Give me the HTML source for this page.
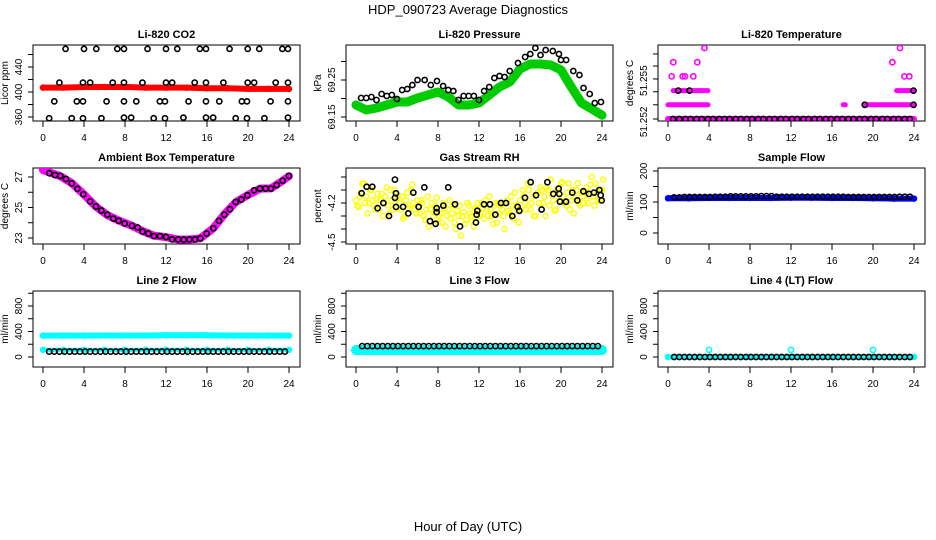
<!DOCTYPE html>
<html><head><meta charset="utf-8"><style>
html,body{margin:0;padding:0;background:#fff;width:936px;height:540px;overflow:hidden}
svg text{font-family:"Liberation Sans",sans-serif}
</style></head><body>
<svg id="c" width="936" height="540" viewBox="0 0 936 540" xmlns="http://www.w3.org/2000/svg">
<text x="468" y="14" text-anchor="middle" font-size="13">HDP_090723  Average Diagnostics</text>
<text x="468" y="531" text-anchor="middle" font-size="13">Hour of Day (UTC)</text>
</svg>
<script>
// ---------- data ----------
const xTicks=[0,4,8,12,16,20,24];
// CO2
const co2RedH=[0,2,4,6,8,10,12,14,16,18,20,22,24];
const co2RedV=[407,407,408,408,408,407,407,407,406,406,405,405,405];
const co2TopH=[2.2,4.0,5.2,7.25,7.9,10.2,12.0,13.1,15.3,15.9,18.2,19.97,21.1,23.35,23.9];
const co2TopV=[469,469,469,469,469,469,469,469,469,469,469,469,469,469,469];
const co2HiH=[1.6,3.9,4.6,6.8,7.9,9.7,12.0,12.6,14.8,15.9,17.6,19.97,20.6,22.7,23.9];
const co2HiV=[415,415,415,415,415,415,415,415,415,415,415,415,415,415,415];
const co2MidH=[1.1,3.3,3.9,6.2,7.9,9.1,11.4,11.9,14.2,15.9,17.2,19.4,19.9,22.2,23.9];
const co2MidV=[385,385,385,385,385,385,385,385,385,385,385,385,385,385,385];
const co2LoH=[0.6,2.8,3.9,5.7,7.9,8.6,10.8,11.9,13.7,15.9,16.6,18.8,19.9,21.6,23.9];
const co2LoV=[358,358,358,358,359,359,358,358,359,359,359,358,358,358,359];
// Pressure
const presGreenH=[0,1,2,3,4,5,6,7,8,9,10,11,12,13,14,15,16,17,18,19,20,21,22,23,24];
const presGreenV=[69.1824,69.1689,69.1743,69.1824,69.1905,69.1905,69.2014,69.2095,69.2176,69.2041,69.1824,69.1824,69.1878,69.2095,69.2311,69.2446,69.2797,69.2932,69.2932,69.2905,69.277,69.2311,69.1878,69.1716,69.155];
const presBlackH=[0.5,1,1.5,2,2.5,3,3.5,4,4.5,5,5.5,6,6.7,7.3,7.9,8.5,9,9.5,10,10.5,11,11.5,12,12.5,13,13.5,14,14.5,15,15.8,16.5,17,17.5,18,18.5,19.2,19.8,20,20.5,21.2,21.8,22.2,22.8,23.3,23.9];
const presBlackV=[69.2014,69.2014,69.2041,69.196,69.2122,69.2068,69.2095,69.1986,69.223,69.2257,69.2365,69.25,69.25,69.2365,69.2473,69.2338,69.223,69.2203,69.196,69.2068,69.2068,69.2068,69.196,69.2203,69.2311,69.2554,69.2608,69.2581,69.2743,69.2959,69.3122,69.3203,69.3365,69.3176,69.3311,69.3284,69.3203,69.3041,69.3041,69.2743,69.2635,69.2284,69.2122,69.1878,69.1905];
// Li-820 temperature (discrete levels)
const tempSegStart=[0,0,17.1,19.1,0.5,22.3];
const tempSegEnd=[24,3.9,17.3,23.9,3.9,24];
const tempSegLevel=[0,1,1,1,2,2];
const tempPtH=[0.36,1.43,1.66,2.47,23.06,23.54,0.52,2.86,21.89,3.55,22.63];
const tempPtLevel=[3,3,3,3,3,3,4,4,4,5,5];
const tempBlackH=[0.5,1.1,1.7,2.2,2.8,3.3,3.9,4.4,5,5.5,6,6.6,7.1,7.7,8.2,8.8,9.3,9.9,10.4,11,11.5,12.1,12.6,13.2,13.7,14.3,14.8,15.4,15.9,16.5,17,17.6,18.1,18.7,19.2,19.8,20.3,20.9,21.4,22,22.5,23.1,23.6,1.0,2.1,23.95,19.2,23.95];
const tempBlackLevel=[0,0,0,0,0,0,0,0,0,0,0,0,0,0,0,0,0,0,0,0,0,0,0,0,0,0,0,0,0,0,0,0,0,0,0,0,0,0,0,0,0,0,0,2,2,2,1,1];
const tempTickV=[0,1,1.92,2.82,3.73,4.58];
const tempLabV=[-0.2,2.7];
const tempLabT=["51.252","51.255"];
// Ambient box temperature
const ambH=[0.62,1.17,1.69,2.24,2.8,3.35,3.93,4.59,5.17,5.69,6.28,6.86,7.38,7.97,8.68,9.24,9.72,10.28,10.83,11.41,12.0,12.59,13.17,13.72,14.28,14.83,15.35,15.97,16.62,17.17,17.69,18.24,18.8,19.35,19.94,20.59,21.17,21.72,22.24,22.8,23.38,23.99];
const ambV=[27.25,27.13,27.07,26.87,26.58,26.22,25.87,25.4,25.07,24.8,24.53,24.27,24.13,23.95,23.8,23.69,23.42,23.29,23.13,23.13,23.07,22.91,22.91,22.89,22.91,22.91,22.98,23.29,23.64,24.13,24.53,24.89,25.36,25.53,25.8,26.13,26.24,26.24,26.24,26.47,26.76,27.07];
const ambMagH=[0,0.62,1.69,2.8,3.93,5.17,6.28,7.38,8.68,9.72,10.83,12.0,13.17,14.28,15.35,15.97,16.62,17.69,18.8,19.94,21.17,22.24,23.38,23.99];
const ambMagV=[27.45,27.3,27.05,26.6,25.9,25.05,24.5,24.15,23.8,23.45,23.15,23.05,22.9,22.9,22.98,23.3,23.65,24.55,25.35,25.8,26.24,26.25,26.75,27.05];
// Gas stream RH
const rhYellowA=[-4.18,-4.23,-4.12,-4.05,-4.15,-4.2,-4.1,-4.22,-4.17,-4.25,-4.13,-4.2,-4.08,-4.28,-4.18,-4.1,-4.24,-4.2,-4.15,-4.3,-4.12,-4.22,-4.06,-4.25,-4.18,-4.28,-4.2,-4.33,-4.15,-4.25,-4.3,-4.22,-4.35,-4.28,-4.2,-4.38,-4.25,-4.32,-4.22,-4.4,-4.3,-4.45,-4.27,-4.33,-4.22,-4.3,-4.38,-4.25,-4.3,-4.2,-4.32,-4.25,-4.15,-4.3,-4.22,-4.35,-4.2,-4.25,-4.4,-4.18,-4.28,-4.22,-4.12,-4.25,-4.18,-4.1,-4.2,-4.05,-4.25,-4.15,-4.3,-4.12,-4.08,-4.2,-4.3,-4.1,-4.02,-4.18,-4.25,-4.12,-4.05,-4.15,-4.22,-4.05,-4.18,-4.28,-4.1,-4.2,-4.12,-4.2,-4.08,-4.15,-4.0,-4.22,-4.12,-4.18,-4.1];
const rhYellowB=[-4.22,-4.15,-4.05,-4.2,-4.28,-4.1,-4.18,-4.25,-4.13,-4.18,-4.3,-4.15,-4.22,-4.1,-4.25,-4.2,-4.15,-4.25,-4.32,-4.18,-4.24,-4.1,-4.2,-4.28,-4.22,-4.18,-4.3,-4.25,-4.38,-4.2,-4.27,-4.16,-4.3,-4.35,-4.24,-4.3,-4.18,-4.28,-4.35,-4.26,-4.22,-4.3,-4.36,-4.2,-4.28,-4.34,-4.24,-4.2,-4.28,-4.24,-4.18,-4.3,-4.25,-4.36,-4.2,-4.28,-4.22,-4.3,-4.2,-4.26,-4.15,-4.32,-4.22,-4.35,-4.25,-4.15,-4.25,-4.1,-4.2,-4.3,-4.14,-4.2,-4.1,-4.15,-4.08,-4.22,-4.14,-4.26,-4.1,-4.18,-4.04,-4.2,-4.12,-4.25,-4.1,-4.16,-4.05,-4.22,-4.15,-4.12,-4.2,-4.06,-4.15,-4.05,-4.18,-4.1,-4.02];
const rhBlackH=[0.55,1.04,1.59,2.11,2.67,3.22,3.8,3.9,3.8,3.9,4.59,5.1,5.59,6.11,6.67,7.22,7.77,7.87,7.87,8.52,9.0,9.66,10.15,11.77,11.7,11.84,12.49,13.07,13.59,14.15,14.63,15.25,15.77,15.93,16.49,17.04,17.56,18.11,18.67,19.25,19.77,19.83,19.9,20.49,21.1,21.59,22.18,22.73,23.22,23.74,23.87,23.97];
const rhBlackV=[-4.125,-4.075,-4.075,-4.24,-4.2,-4.3,-4.02,-4.125,-4.16,-4.23,-4.23,-4.28,-4.12,-4.23,-4.08,-4.34,-4.36,-4.24,-4.27,-4.22,-4.08,-4.21,-4.38,-4.29,-4.35,-4.26,-4.21,-4.21,-4.29,-4.2,-4.2,-4.3,-4.23,-4.26,-4.16,-4.04,-4.14,-4.25,-4.04,-4.13,-4.09,-4.13,-4.19,-4.19,-4.12,-4.18,-4.11,-4.13,-4.12,-4.1,-4.14,-4.18];
// Sample flow
const sampBlueH=[0,2,4,6,8,10,12,14,16,18,20,22,24];
const sampBlueV=[112,112,113,113,113,113,114,114,113,113,112,111,111];
const sampBlackV=[115,115,116,116,116,116,116,116,117,117,117,118,118,118,118,118,118,119,119,119,117,117,117,117,117,117,117,117,117,117,117,117,117,117,116,116,116,116,116,116,116,116,116,116,117,117,117];
// Line flows
const l2CyanHiV=[336,336,336,338,338,338,340,340,340,338,336,336,336];
const l2CyanLoV=[112,112,112,112,112,112,114,112,112,112,112,112,112];
const l2BlackV=85;
const l3CyanV=[110,110,110,110,110,110,110,110,110,110,110,110,110];
const l3BlackV=171;
const l4CyanV=[0,0,0,0,0,0,0,0,0,0,0,0,0];
const l4SpikeH=[4,12,20];
const l4SpikeV=[112,112,112];
const l4BlackV=0;
</script>
<script>
const svg=document.getElementById('c');
const NS='http://www.w3.org/2000/svg';
function mk(tag,attrs,parent){const e=document.createElementNS(NS,tag);for(const k in attrs)e.setAttribute(k,attrs[k]);(parent||svg).appendChild(e);return e;}
function grid(a,b,s){const r=[];for(let v=a;v<=b+1e-9;v+=s)r.push(+v.toFixed(3));return r;}
const colX=[33,346,658], rowY=[45,168,291], BW=267, BH=76;

function panel(name,col,row,title,ylab,v1,p1,v2,p2,yTicks,yLabV,yLabT){
  const L=colX[col],T=rowY[row];
  const g=mk('g',{});
  
  
  const xs=h=>L+10+h*10.25;
  const ys=v=>p1+(v-v1)*(p2-p1)/(v2-v1);
  const t=mk('text',{x:L+BW/2,y:T-7,'text-anchor':'middle','font-size':11,'font-weight':'bold'},g);
  t.textContent=title;
  
  
  const box=mk('rect',{x:L,y:T,width:BW,height:BH,fill:'none',stroke:'#000','stroke-width':1},g);
  
  
  const xa=mk('g',{},g);
  
  
  xTicks.forEach(h=>{
    mk('line',{x1:xs(h),x2:xs(h),y1:T+BH,y2:T+BH+6,stroke:'#000'},xa);
    const tl=mk('text',{x:xs(h),y:T+BH+20,'text-anchor':'middle','font-size':10},xa);
    tl.textContent=h;
    
    
  });
  const ya=mk('g',{},g);
  
  
  yTicks.forEach(v=>mk('line',{x1:L-5,x2:L,y1:ys(v),y2:ys(v),stroke:'#000'},ya));
  yLabV.forEach((v,i)=>{
    const y=ys(v);
    const tl=mk('text',{x:L-11,y:y,'text-anchor':'middle','font-size':10,transform:`rotate(-90 ${L-11} ${y})`},ya);
    tl.textContent=yLabT?yLabT[i]:v;
    
    
  });
  const yl=mk('text',{x:L-25,y:T+BH/2,'text-anchor':'middle','font-size':10,transform:`rotate(-90 ${L-25} ${T+BH/2})`},g);
  yl.textContent=ylab;
  
  
  const clipId='clip'+col+row;
  const cp=mk('clipPath',{id:clipId},g);mk('rect',{x:L,y:T,width:BW,height:BH},cp);
  const plot=mk('g',{'clip-path':`url(#${clipId})`},g);
  return {g:plot,xs,ys};
}
function band(P,H,V,color,w,name){
  const pts=H.map((h,i)=>P.xs(h).toFixed(1)+','+P.ys(V[i]).toFixed(1)).join(' ');
  const pl=mk('polyline',{points:pts,fill:'none',stroke:color,'stroke-width':w,'stroke-linejoin':'round','stroke-linecap':'round'},P.g);
  
  
  H.forEach((h,i)=>{
    const c=mk('circle',{cx:P.xs(h),cy:P.ys(V[i]),r:2.6,fill:'none',stroke:color,'stroke-width':1.3},P.g);
    
    
  });
}
function pts(P,H,V,color,name,sw){
  H.forEach((h,i)=>{
    const v=Array.isArray(V)?V[i]:V;
    const c=mk('circle',{cx:P.xs(h),cy:P.ys(v),r:2.6,fill:'none',stroke:color,'stroke-width':sw||1.6},P.g);
    
    
  });
}

// CO2
let P=panel('co2',0,0,'Li-820 CO2','Licor ppm',360,117,440,67,[360,380,400,420,440,460],[360,400,440]);
band(P,co2RedH,co2RedV,'#ff0000',6,'co2-red-series');
pts(P,co2TopH,co2TopV,'#000','co2-point');pts(P,co2HiH,co2HiV,'#000','co2-point');
pts(P,co2MidH,co2MidV,'#000','co2-point');pts(P,co2LoH,co2LoV,'#000','co2-point');

// Pressure
P=panel('pressure',1,0,'Li-820 Pressure','kPa',69.15,117,69.25,80,[69.15,69.2,69.25,69.3],[69.15,69.25]);
band(P,presGreenH,presGreenV,'#00cc00',9,'pressure-green-series');
pts(P,presBlackH,presBlackV,'#000','pressure-point');

// Li-820 Temperature
P=panel('li820-temp',2,0,'Li-820 Temperature','degrees C',0,119,1,104.8,tempTickV,tempLabV,tempLabT);
tempSegStart.forEach((s,i)=>{
  const ln=mk('line',{x1:P.xs(s),x2:P.xs(tempSegEnd[i]),y1:P.ys(tempSegLevel[i]),y2:P.ys(tempSegLevel[i]),stroke:'#ff00ff','stroke-width':i===0?6:5,'stroke-linecap':'round'},P.g);
  
  
});
pts(P,tempPtH,tempPtLevel,'#ff00ff','temp-magenta-point');
pts(P,tempBlackH,tempBlackLevel,'#000','temp-point');

// Ambient
P=panel('ambient-temp',0,1,'Ambient Box Temperature','degrees C',23,238,27,177,[23,24,25,26,27],[23,25,27]);
band(P,ambMagH,ambMagV,'#ff00ff',8,'ambient-magenta-series');
pts(P,ambH,ambV,'#000','ambient-point',1.6);

// RH
P=panel('gas-rh',1,1,'Gas Stream RH','percent',-4.2,203,-4.5,242,[-4.0,-4.1,-4.2,-4.3,-4.4,-4.5],[-4.2,-4.5]);
const rhH=grid(0,24,0.25);
pts(P,rhH,rhYellowA,'#ffff00','rh-yellow-point',1.4);
pts(P,rhH.map(h=>h+0.12),rhYellowB,'#ffff00','rh-yellow-point',1.4);
pts(P,rhBlackH,rhBlackV,'#000','rh-point');

// Sample Flow
P=panel('sample-flow',2,1,'Sample Flow','ml/min',0,233,200,171,[0,50,100,150,200],[0,100,200]);
band(P,sampBlueH,sampBlueV,'#0000ff',6,'sample-blue-series');
pts(P,grid(0.6,23.6,0.5).concat([23.9]),sampBlackV,'#000','sample-point');

// Line 2
const flowTicks=[0,200,400,600,800,1000];
const lineH=grid(0,24,2);
const blackH=grid(0.6,23.9,0.5);
P=panel('line2-flow',0,2,'Line 2 Flow','ml/min',0,357,800,306,flowTicks,[0,400,800]);
band(P,lineH,l2CyanHiV,'#00ffff',6,'line2-cyan-high-series');
band(P,lineH,l2CyanLoV,'#00ffff',4,'line2-cyan-low-series');
pts(P,blackH,l2BlackV,'#000','line2-point');

// Line 3
P=panel('line3-flow',1,2,'Line 3 Flow','ml/min',0,357,800,306,flowTicks,[0,400,800]);
band(P,lineH,l3CyanV,'#00ffff',10,'line3-cyan-series');
pts(P,blackH,l3BlackV,'#000','line3-point');

// Line 4
P=panel('line4-flow',2,2,'Line 4 (LT) Flow','ml/min',0,357,800,306,flowTicks,[0,400,800]);
band(P,lineH,l4CyanV,'#00ffff',5,'line4-cyan-series');
pts(P,l4SpikeH,l4SpikeV,'#00ffff','line4-cyan-spike');
pts(P,blackH,l4BlackV,'#000','line4-point');
</script>
</body></html>
